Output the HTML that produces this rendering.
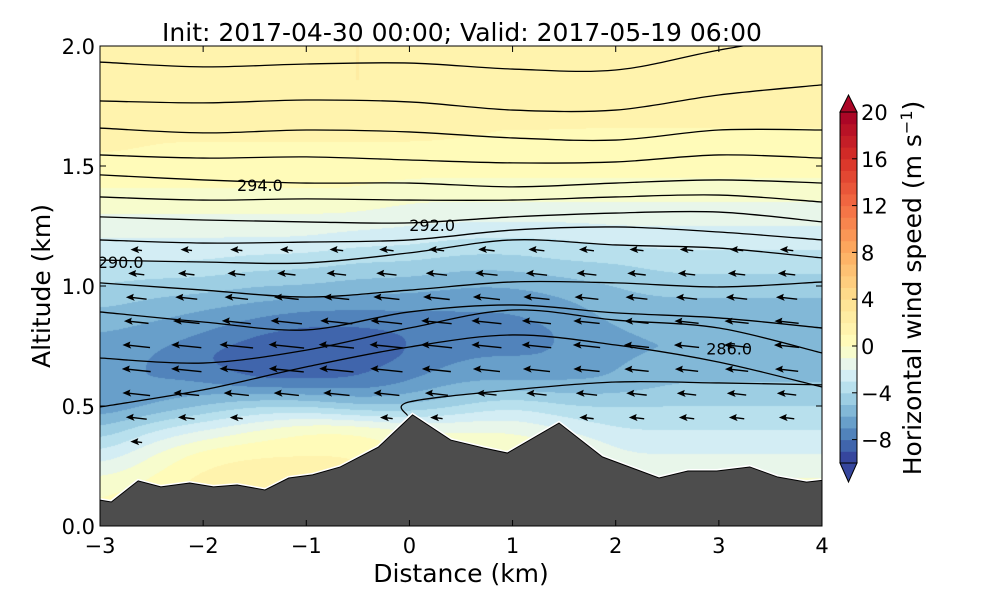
<!DOCTYPE html>
<html><head><meta charset="utf-8"><style>
body{margin:0;background:#fff;width:1000px;height:600px;overflow:hidden;position:relative;font-family:"DejaVu Sans","Liberation Sans",sans-serif}
#fld{position:absolute;left:100px;top:46px}
svg{position:absolute;left:0;top:0;font-family:"DejaVu Sans","Liberation Sans",sans-serif}
</style></head><body>
<canvas id="fld" width="722" height="480"></canvas>
<svg id="sv" width="1000" height="600"></svg>
<script>
// ---- data ----
const gridX=[-3,-2.5,-2,-1.5,-1,-0.5,0,0.5,1,1.5,2,2.5,3,3.5,4];
const gridZ=[0,0.1,0.2,0.3,0.4,0.5,0.6,0.7,0.8,0.9,1.0,1.1,1.2,1.3,1.4,1.5,1.6,1.7,1.8,1.9,2.0];
const windU=[
[0,1,1,1,1,1,1,0,0,0,0,0,0,0,0],
[0,1,1.5,1.5,1.5,1.5,1,0,0,0,0,0,0,0,0],
[-1,0,1.5,1.5,1.5,1.5,1,0.5,0.5,0,-1,-1,-1,-1,-1],
[-3,-1,0.5,1,1,1,0,0,0,0,-2,-2,-2,-2,-2],
[-5,-3,-2,-1,0,0,-1,-1,-1,-2,-3,-3,-3,-3,-3],
[-7,-6,-5,-4,-4,-5,-5,-4,-3,-4,-4,-4,-4,-4,-4],
[-7,-7,-7,-8,-8,-8,-7,-6,-6,-6,-6,-5,-5,-5,-5],
[-6.5,-7,-8,-9,-9,-8.5,-8,-7,-7,-7,-6,-6,-6,-6,-6],
[-6,-6.5,-7,-8,-8.5,-8.5,-8,-7.5,-7.5,-7,-6,-6,-6,-6,-6],
[-5,-5.5,-6,-6.5,-7,-7,-7,-7,-7,-6.5,-5.5,-5.5,-5.5,-5.5,-5.5],
[-4,-4.5,-4.5,-5,-5,-5.5,-5.5,-6,-6,-5.5,-5,-4.5,-4.5,-4.5,-4.5],
[-3,-3,-3,-3.5,-3.5,-4,-4,-4.5,-4.5,-4,-4,-3.5,-3.5,-3.5,-3.5],
[-2,-2,-2,-2,-2,-2.5,-2.5,-3,-3,-3,-2.5,-2.5,-2.5,-2.5,-2.5],
[-1,-1,-1,-1,-1,-1,-1.5,-1.5,-1.5,-1.5,-1.5,-1.5,-1.5,-1.5,-1.5],
[0,0,0,0,0,0,-0.5,-0.5,-0.5,-0.5,-0.5,-0.5,-0.5,-0.5,-0.5],
[0.5,0.5,0.5,0.5,0.5,0.5,0.5,0.5,0.5,0.5,0.5,0.5,0.5,0.5,0.5],
[1.5,1,1,1,1,1,1,1,1,1,1,1,1,1,1],
[1.5,1.5,1.5,1.5,1.5,1.5,1.5,1,1,1,1,1,1,1,1],
[1,1.5,1.5,1.5,2,2,2,1.5,1.5,1,1,1,1,1,1],
[1,1.5,1.5,1.5,2,2,2,1.5,1.5,1,1,1,1,1,1],
[1,1.5,1.5,1.5,2,2,2,1.5,1.5,1,1,1,1,1,1]];
const thetaX=[-3,-2,-1,0,1,2,3,4];
const theta1=[1.933,1.913,1.925,1.929,1.904,1.9,1.983,2.054];
const theta2=[1.771,1.763,1.775,1.767,1.733,1.733,1.796,1.838];
const theta3=[1.658,1.638,1.65,1.642,1.617,1.608,1.65,1.65];
const theta4=[1.546,1.533,1.538,1.525,1.513,1.517,1.546,1.533];
const theta5=[1.463,1.442,1.429,1.429,1.413,1.429,1.442,1.429];
const theta6=[1.371,1.358,1.363,1.358,1.358,1.371,1.379,1.35];
const theta7=[1.288,1.275,1.267,1.263,1.288,1.304,1.308,1.267];
const theta8=[1.192,1.179,1.183,1.192,1.233,1.246,1.225,1.192];
const theta9=[1.108,1.1,1.096,1.138,1.192,1.171,1.158,1.117];
const theta10=[1.013,0.983,0.954,0.983,1.017,1.013,0.996,1.017];
const theta11=[0.892,0.85,0.817,0.892,0.921,0.888,0.867,0.825];
const theta12=[0.7,0.679,0.733,0.825,0.9,0.858,0.825,0.721];
const theta13=[0.496,0.567,0.663,0.746,0.796,0.754,0.683,0.579];
const theta14=[null,null,null,0.517,0.567,0.6,0.596,0.588];
const thetaLabels=[["294.0",-1.45,1.42],["292.0",0.22,1.255],["290.0",-2.8,1.1],["286.0",3.1,0.74]];
const terrainX=[-3,-2.89,-2.63,-2.41,-2.13,-1.90,-1.67,-1.40,-1.17,-0.94,-0.67,-0.30,0.03,0.40,0.72,0.95,1.45,1.87,2.42,2.70,2.98,3.30,3.57,3.85,4.0];
const terrainZ=[0.108,0.1,0.188,0.163,0.179,0.163,0.171,0.15,0.2,0.213,0.246,0.329,0.463,0.358,0.325,0.304,0.429,0.288,0.2,0.229,0.229,0.246,0.204,0.183,0.19];
const xTicks=[-3,-2,-1,0,1,2,3,4];
const yTicks=[0,0.5,1.0,1.5,2.0];
const yTickLabels=["0.0","0.5","1.0","1.5","2.0"];
const cbTicks=[20,16,12,8,4,0,-4,-8];

// ---- scales ----
const X0=100,X1=822,Y0=526,Y1=46;
const sx=x=>X0+(x+3)/7*(X1-X0);
const sy=z=>Y0-z/2*(Y0-Y1);
const CB0=463,CB1=112;
const scb=v=>CB0-(v+10)/30*(CB0-CB1);

function hex(h){return [1,3,5].map(i=>parseInt(h.substr(i,2),16));}
const blueStops=["#313695","#4575b4","#74add1","#abd9e9","#e0f3f8","#ffffbf"];
const redStops=["#ffffbf","#fee090","#fdae61","#f46d43","#d73027","#a50026"];
function cmap(v){
  let st,t;
  if(v<0){t=(v+10)/2;st=blueStops;}else{t=v/4;st=redStops;}
  t=Math.max(0,Math.min(st.length-1-1e-9,t));
  const i=Math.floor(t),f=t-i,a=hex(st[i]),b=hex(st[i+1]);
  return a.map((c,k)=>Math.round(c+(b[k]-c)*f));
}
function levelColor(u){const l=Math.floor(u);return cmap(Math.max(-10,Math.min(19,l))+0.5);}
function interpU(x,z){
  let fx=(x-gridX[0])/(gridX[1]-gridX[0]),fz=(z-gridZ[0])/(gridZ[1]-gridZ[0]);
  fx=Math.max(0,Math.min(gridX.length-1.0001,fx));fz=Math.max(0,Math.min(gridZ.length-1.0001,fz));
  const i=Math.floor(fx),j=Math.floor(fz),a=fx-i,b=fz-j;
  return windU[j][i]*(1-a)*(1-b)+windU[j][i+1]*a*(1-b)+windU[j+1][i]*(1-a)*b+windU[j+1][i+1]*a*b;
}
// ---- field (interpolated, smoothed, then quantized) ----
const W=722,H=480;
let F=new Float32Array(W*H);
for(let py=0;py<H;py++)for(let px=0;px<W;px++){F[py*W+px]=interpU((px+0.5)/W*7-3,(H-0.5-py)/H*2);}
function blurH(A,r){const B=new Float32Array(W*H);for(let y=0;y<H;y++){for(let x=0;x<W;x++){let s=0,n=0;for(let k=-r;k<=r;k+=2){const xx=Math.min(W-1,Math.max(0,x+k));s+=A[y*W+xx];n++;}B[y*W+x]=s/n;}}return B;}
function blurV(A,r){const B=new Float32Array(W*H);for(let y=0;y<H;y++){for(let x=0;x<W;x++){let s=0,n=0;for(let k=-r;k<=r;k++){const yy=Math.min(H-1,Math.max(0,y+k));s+=A[yy*W+x];n++;}B[y*W+x]=s/n;}}return B;}
F=blurH(F,30);F=blurH(F,20);F=blurV(F,8);F=blurV(F,6);
const cv=document.getElementById('fld'),ctx=cv.getContext('2d');
const img=ctx.createImageData(W,H);
for(let i=0;i<W*H;i++){const c=levelColor(F[i]);const o=i*4;img.data[o]=c[0];img.data[o+1]=c[1];img.data[o+2]=c[2];img.data[o+3]=255;}
ctx.putImageData(img,0,0);

// ---- svg ----
const NS="http://www.w3.org/2000/svg",sv=document.getElementById('sv');
function mk(tag,at,parent){const e=document.createElementNS(NS,tag);for(const k in at)e.setAttribute(k,at[k]);(parent||sv).appendChild(e);return e;}
function crPath(pts){
  let d="M"+pts[0][0]+","+pts[0][1];
  for(let i=0;i<pts.length-1;i++){
    const p0=pts[Math.max(0,i-1)],p1=pts[i],p2=pts[i+1],p3=pts[Math.min(pts.length-1,i+2)];
    d+=" C"+(p1[0]+(p2[0]-p0[0])/6)+","+(p1[1]+(p2[1]-p0[1])/6)+" "+(p2[0]-(p3[0]-p1[0])/6)+","+(p2[1]-(p3[1]-p1[1])/6)+" "+p2[0]+","+p2[1];
  }
  return d;
}
const clip=mk('clipPath',{id:'pc'});mk('rect',{x:X0,y:Y1,width:X1-X0,height:Y0-Y1},clip);
const g=mk('g',{'clip-path':'url(#pc)'});


// arrows
function terrainAt(x){for(let i=0;i<terrainX.length-1;i++){if(x>=terrainX[i]&&x<=terrainX[i+1]){const f=(x-terrainX[i])/(terrainX[i+1]-terrainX[i]);return terrainZ[i]+f*(terrainZ[i+1]-terrainZ[i]);}}return 0.2;}
const qg=mk('g',{},g);

for(let k=0;k<14;k++){const x=-2.64+k*0.485;const tz=terrainAt(x);
  for(let z=0.25;z<1.95;z+=0.1){ if(z<tz+0.04)continue;
    const u=interpU(x,z); if(u>-2.5)continue;
    const L=-u*3.9,px=sx(x),py=sy(z);
    const a=mk('path',{d:`M${px+L/2},${py+L*0.06} L${px-L/2+4},${py-L*0.03} M${px-L/2},${py-L*0.04} l5,-2.2 l-0.8,2.4 l1.2,2 z`,stroke:'#000','stroke-width':1.4,fill:'#000'},qg);
    
  }}
// theta contours
const thetaSeries=[theta1,theta2,theta3,theta4,theta5,theta6,theta7,theta8,theta9,theta10,theta11,theta12,theta13,theta14];
thetaSeries.forEach((s,i)=>{const pts=[];s.forEach((z,j)=>{if(z!=null)pts.push([sx(thetaX[j]),sy(z)]);});
  if(i===13)pts.unshift([sx(-0.02),sy(0.46)]);
  const p=mk('path',{d:crPath(pts),fill:'none',stroke:'#000','stroke-width':1.3},g);
  });
thetaLabels.forEach(l=>{const t=mk('text',{x:sx(l[1]),y:sy(l[2])+6,'font-size':16,'text-anchor':'middle',fill:'#000'},g);t.textContent=l[0];
  });
// terrain
let td="M"+sx(-3)+","+sy(0);terrainX.forEach((x,i)=>td+=" L"+sx(x)+","+sy(terrainZ[i]));td+=" L"+sx(4)+","+sy(0)+" Z";
let tl="M"+terrainX.map((x,i)=>sx(x)+","+sy(terrainZ[i])).join(" L");
mk('path',{d:tl,fill:'none',stroke:'#fff','stroke-width':4},g);
const tp=mk('path',{d:td,fill:'#4d4d4d',stroke:'#000','stroke-width':1},g);


// frame & ticks
const fr=mk('rect',{x:X0,y:Y1,width:X1-X0,height:Y0-Y1,fill:'none',stroke:'#000','stroke-width':1});

xTicks.forEach(v=>{const x=sx(v);mk('line',{x1:x,x2:x,y1:Y0,y2:Y0-6,stroke:'#000'});mk('line',{x1:x,x2:x,y1:Y1,y2:Y1+6,stroke:'#000'});
  const t=mk('text',{x:x,y:553,'font-size':21,'text-anchor':'middle'});t.textContent=(v<0?"\u2212"+(-v):v);
  });
yTicks.forEach((v,i)=>{const y=sy(v);mk('line',{x1:X0,x2:X0+6,y1:y,y2:y,stroke:'#000'});mk('line',{x1:X1,x2:X1-6,y1:y,y2:y,stroke:'#000'});
  const t=mk('text',{x:95,y:y+8,'font-size':21,'text-anchor':'end'});t.textContent=yTickLabels[i];
  });
let t=mk('text',{x:462,y:41,'font-size':25,'text-anchor':'middle'});t.textContent="Init: 2017-04-30 00:00; Valid: 2017-05-19 06:00";

t=mk('text',{x:461,y:582,'font-size':25,'text-anchor':'middle'});t.textContent="Distance (km)";

t=mk('text',{x:0,y:0,'font-size':25,'text-anchor':'middle',transform:'translate(50,286) rotate(-90)'});t.textContent="Altitude (km)";


// colorbar
const cb=mk('g',{});
for(let v=-10;v<20;v++){const c=cmap(v+0.5);mk('rect',{x:840,y:scb(v+1),width:17,height:scb(v)-scb(v+1)+0.5,fill:`rgb(${c})`},cb);}
let c1=cmap(19.5),c0=cmap(-9.5);
mk('path',{d:`M840,${CB1} L848.5,95 L857,${CB1} Z`,fill:`rgb(${c1})`,stroke:'#000','stroke-width':1},cb);
mk('path',{d:`M840,${CB0} L848.5,482 L857,${CB0} Z`,fill:`rgb(${c0})`,stroke:'#000','stroke-width':1},cb);
mk('rect',{x:840,y:CB1,width:17,height:CB0-CB1,fill:'none',stroke:'#000','stroke-width':1},cb);
cbTicks.forEach(v=>{const y=scb(v);mk('line',{x1:852,x2:857,y1:y,y2:y,stroke:'#000'},cb);
  const tt=mk('text',{x:861,y:y+8,'font-size':21},cb);tt.textContent=(v<0?"\u2212"+(-v):v);
  });
t=mk('text',{x:0,y:0,'font-size':25,'text-anchor':'middle',transform:'translate(921,288) rotate(-90)'});
t.innerHTML='Horizontal wind speed (m s<tspan dy="-9" font-size="16">\u22121</tspan><tspan dy="9">)</tspan>';

</script></body></html>
